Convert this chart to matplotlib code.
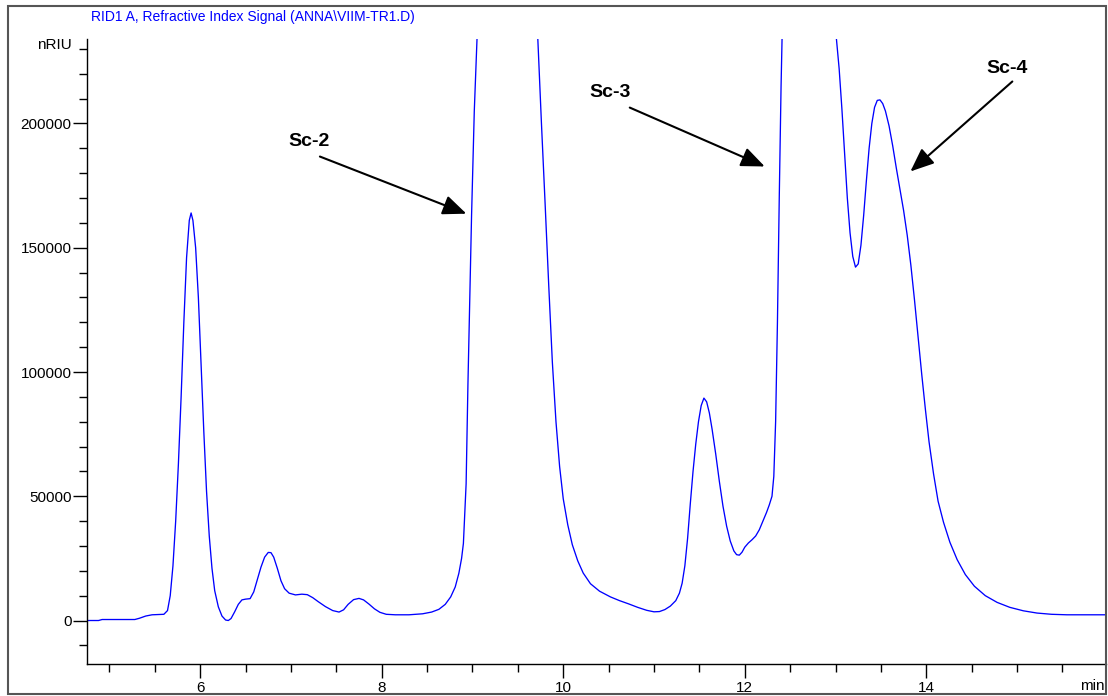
import matplotlib
matplotlib.use("Agg")
import matplotlib.pyplot as plt
from matplotlib.patches import Rectangle
from matplotlib.ticker import MultipleLocator

# chromatogram (time in min, signal in nRIU)
time_min = [
    4.75, 4.88, 4.92, 5.28, 5.33, 5.40, 5.47, 5.60, 5.64, 5.67, 5.70, 5.73, 5.76,
    5.79, 5.82, 5.85, 5.88, 5.90, 5.92, 5.95, 5.98, 6.01, 6.04, 6.07, 6.10, 6.13,
    6.16, 6.20, 6.24, 6.28, 6.31, 6.34, 6.38, 6.42, 6.46, 6.50, 6.55, 6.59, 6.63,
    6.67, 6.71, 6.75, 6.78, 6.81, 6.85, 6.89, 6.93, 6.98, 7.05, 7.12, 7.18, 7.24,
    7.30, 7.38, 7.46, 7.53, 7.58, 7.63, 7.69, 7.75, 7.80, 7.86, 7.92, 7.98, 8.05,
    8.15, 8.30, 8.45, 8.55, 8.63, 8.70, 8.76, 8.81, 8.85, 8.88, 8.90, 8.93, 8.95,
    8.97, 8.99, 9.02, 9.05, 9.10, 9.38, 9.66, 9.72, 9.76, 9.80, 9.84, 9.88, 9.92,
    9.96, 10.00, 10.05, 10.10, 10.16, 10.22, 10.30, 10.40, 10.52, 10.62, 10.72,
    10.82, 10.92, 11.00, 11.06, 11.12, 11.18, 11.24, 11.28, 11.31, 11.34, 11.37,
    11.40, 11.43, 11.46, 11.49, 11.52, 11.55, 11.58, 11.61, 11.64, 11.68, 11.72,
    11.76, 11.80, 11.84, 11.88, 11.91, 11.94, 11.97, 12.00, 12.04, 12.08, 12.12,
    12.16, 12.20, 12.24, 12.27, 12.30, 12.32, 12.34, 12.36, 12.38, 12.40, 12.42,
    12.50, 12.70, 12.95, 13.01, 13.04, 13.07, 13.10, 13.13, 13.16, 13.19, 13.22,
    13.25, 13.28, 13.31, 13.34, 13.37, 13.40, 13.43, 13.46, 13.49, 13.52, 13.55,
    13.59, 13.63, 13.67, 13.71, 13.75, 13.79, 13.83, 13.87, 13.91, 13.95, 13.99,
    14.03, 14.08, 14.13, 14.19, 14.26, 14.34, 14.43, 14.53, 14.65, 14.78, 14.92,
    15.07, 15.22, 15.38, 15.55, 15.98,
]
signal_nriu = [
    0, 0, 400, 400, 900, 1800, 2300, 2500, 4000, 10000, 22000, 40000, 63000,
    90000, 120000, 146000, 161000, 164000, 161000, 150000, 130000, 103000, 76000, 52000, 34000, 21000,
    12000, 5500, 1800, 200, 0, 800, 3500, 6500, 8300, 8600, 8800, 11500, 16500,
    21500, 25500, 27400, 27300, 25500, 21000, 16000, 12800, 11000, 10300, 10600, 10400, 9200,
    7600, 5600, 4000, 3400, 4300, 6500, 8400, 8900, 8300, 6600, 4700, 3300, 2500,
    2300, 2300, 2700, 3400, 4500, 6500, 9500, 13500, 19000, 25000, 31000, 55000, 95000,
    129000, 163000, 205000, 234000, 290000, 450000, 290000, 234000, 200000, 168000, 135000, 104000, 80000,
    62000, 49000, 38500, 30500, 24000, 19100, 14800, 11800, 9500, 8000, 6700,
    5300, 4100, 3500, 3600, 4400, 5800, 8000, 11000, 15000, 22000, 33000,
    47000, 60000, 71000, 80000, 86500, 89500, 88000, 83500, 77000, 67000, 56000,
    46000, 38000, 32000, 28000, 26500, 26300, 27500, 29500, 31200, 32500, 34000,
    36500, 40000, 43500, 46500, 50000, 58000, 80000, 120000, 170000, 215000, 250000,
    400000, 500000, 350000, 234000, 222000, 206000, 188000, 170000, 156000, 146500, 142200,
    143500, 151000, 163000, 177000, 190000, 200000, 206500, 209300, 209500, 208000, 205000,
    199000, 191000, 182000, 173500, 165000, 155000, 143000, 129000, 114000, 99000, 85000,
    72000, 59000, 48000, 39500, 31500, 24500, 18500, 13800, 10000, 7300, 5300,
    3900, 3000, 2500, 2300, 2300,
]

peak_labels = ["Sc-2", "Sc-3", "Sc-4"]
label_pos = [(7.204, 192800), (10.513, 212600), (14.885, 222200)]
arrow_tail = [(7.319, 186700), (10.733, 206400), (14.948, 216900)]
arrow_tip = [(8.933, 163700), (12.220, 182700), (13.825, 180700)]

title = "RID1 A, Refractive Index Signal (ANNA\\VIIM-TR1.D)"
font = "Liberation Sans"

W, H = 1108, 696
fig = plt.figure(figsize=(W / 100, H / 100), dpi=100)
ax = fig.add_axes([87 / W, (H - 664) / H, (1106 - 87) / W, (664 - 39) / H])

ax.plot(time_min, signal_nriu, color="#0000ff", lw=0.95)

ax.set_xlim(4.753, 15.98)
ax.set_ylim(-17500, 234000)

ax.xaxis.set_major_locator(MultipleLocator(2))
ax.xaxis.set_minor_locator(MultipleLocator(0.5))
ax.yaxis.set_major_locator(MultipleLocator(50000))
ax.yaxis.set_minor_locator(MultipleLocator(10000))
ax.tick_params(which="major", length=10, width=1, direction="out", pad=2)
ax.tick_params(which="minor", length=6, width=1, direction="out")
ax.tick_params(axis="y", which="major", pad=1)
ax.set_yticks([0, 50000, 100000, 150000, 200000])
ax.set_yticklabels(["0", "50000", "100000", "150000", "200000"])
for lab in ax.get_xticklabels() + ax.get_yticklabels():
    lab.set_family(font)
    lab.set_fontsize(11)

ax.spines["top"].set_visible(False)
ax.spines["right"].set_visible(False)
for s in ("left", "bottom"):
    ax.spines[s].set_linewidth(1)

for name, pos, tail, tip in zip(peak_labels, label_pos, arrow_tail, arrow_tip):
    ax.text(pos[0], pos[1], name, ha="center", va="center", fontsize=14,
            fontweight="bold", family=font)
    ax.annotate("", xy=tip, xytext=tail,
                arrowprops=dict(arrowstyle="-|>,head_length=0.6,head_width=0.25",
                                mutation_scale=24, lw=1.5, color="black",
                                shrinkA=0, shrinkB=0))

fig.text(91 / W, 1 - 17 / H, title, color="#0000ff", fontsize=10,
         family=font, ha="left", va="center")
fig.text(72 / W, 1 - 45 / H, "nRIU", fontsize=11, family=font,
         ha="right", va="center")
fig.text(1105 / W, 1 - 686 / H, "min", fontsize=11, family=font,
         ha="right", va="center")

# outer frame
fig.patches.append(Rectangle((8 / W, 1 - 694 / H), (1106 - 8) / W, (694 - 6) / H,
                             transform=fig.transFigure, fill=False,
                             edgecolor="#555555", lw=1.5))

fig.savefig("out.png", dpi=100)
